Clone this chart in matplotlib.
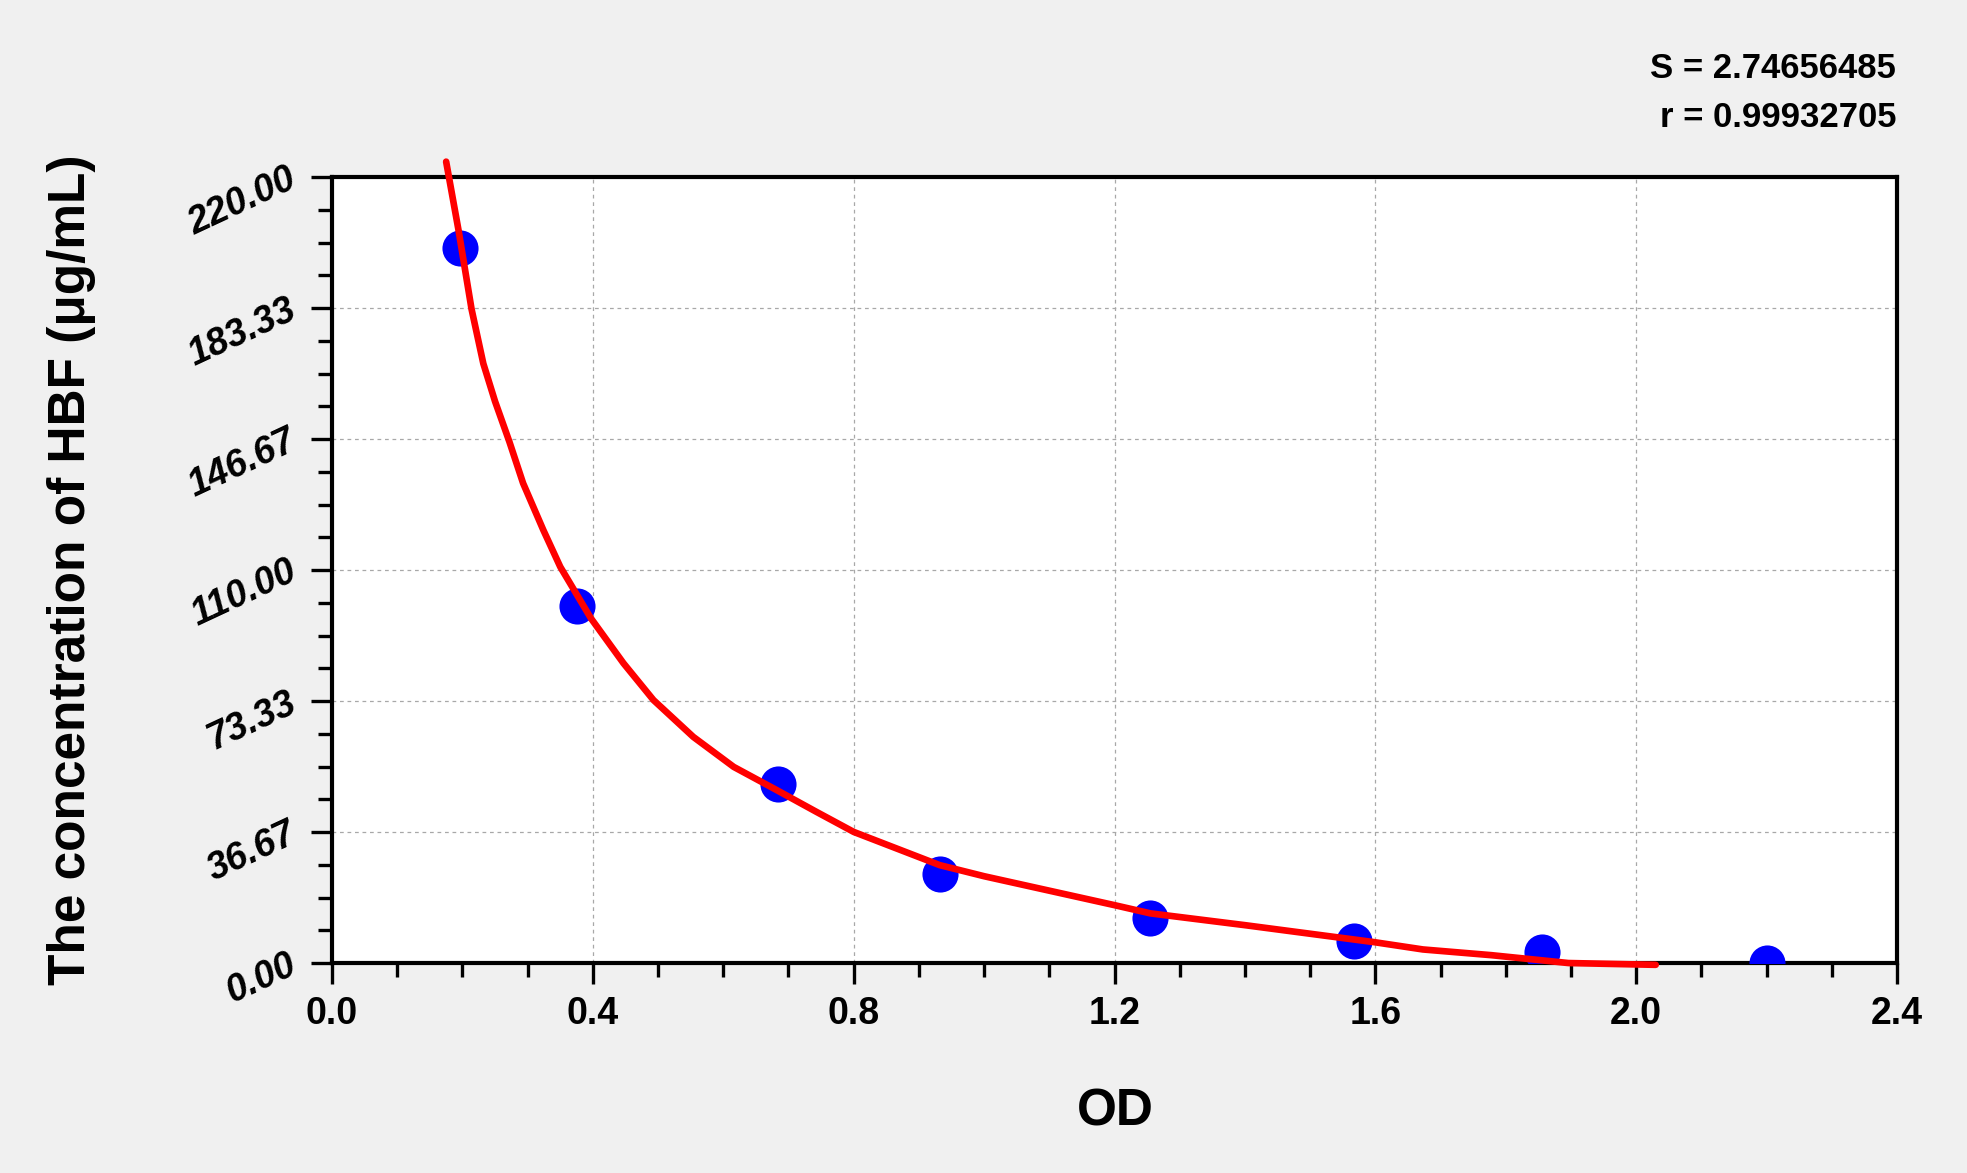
import numpy as np
import matplotlib
matplotlib.use("Agg")
import matplotlib.pyplot as plt
from matplotlib.ticker import AutoMinorLocator, FixedLocator

plt.rcParams['font.family'] = ['Liberation Sans', 'DejaVu Sans']
plt.rcParams['font.weight'] = 'bold'

# standards (OD vs concentration)
od = [0.196, 0.376, 0.684, 0.932, 1.255, 1.568, 1.855, 2.200]
conc = [200, 100, 50, 25, 12.5, 6.25, 3.125, 0]

# fitted curve
curve_od = [0.175, 0.194, 0.214, 0.232, 0.250, 0.272, 0.293, 0.324, 0.350,
            0.397, 0.447, 0.493, 0.554, 0.616, 0.682, 0.743, 0.800, 0.932,
            1.000, 1.200, 1.255, 1.400, 1.600, 1.673, 1.778, 1.896, 2.030]
curve_conc = [224.3, 205.1, 183.0, 167.8, 157.2, 145.9, 134.3, 121.2, 110.9,
              96.5, 83.9, 73.6, 63.3, 54.9, 48.4, 42.3, 36.7, 27.4,
              24.3, 16.2, 13.9, 10.6, 5.8, 3.8, 2.2, 0.0, -0.5]

xticks = [0.0, 0.4, 0.8, 1.2, 1.6, 2.0, 2.4]
ytick_labels = ['0.00', '36.67', '73.33', '110.00', '146.67', '183.33', '220.00']

fig = plt.figure(figsize=(19.67, 11.73), dpi=100)
fig.patch.set_facecolor('#f0f0f0')
ax = fig.add_axes([0.1688, 0.179, 0.7956, 0.6701])
ax.set_facecolor('white')

ax.plot(od, conc, 'o', color='#0000ff', ms=26, mec='none', zorder=3)
ax.plot(curve_od, curve_conc, '-', color='#ff0000', lw=4.8, zorder=4,
        clip_on=False, solid_capstyle='round', solid_joinstyle='round')

ax.set_xlim(0, 2.4)
ax.set_ylim(0, 220)
ax.xaxis.set_major_locator(FixedLocator(xticks))
ax.set_xticklabels(['%.1f' % v for v in xticks], fontsize=27, fontweight='bold')
ax.yaxis.set_major_locator(FixedLocator(np.linspace(0, 220, 7)))
ax.set_yticklabels(ytick_labels, fontsize=27, fontweight='bold', style='italic',
                   rotation=25, rotation_mode='anchor', ha='right', va='center')
ax.xaxis.set_minor_locator(AutoMinorLocator(4))
ax.yaxis.set_minor_locator(AutoMinorLocator(4))

ax.tick_params(which='major', direction='out', length=15, width=2.4, pad=9)
ax.tick_params(axis='y', which='major', pad=12)
ax.tick_params(which='minor', direction='out', length=10, width=2.4)
for s in ax.spines.values():
    s.set_linewidth(3)

ax.grid(True, which='major', color='#a8a8a8', lw=0.9, ls=(0, (3, 3)))
ax.set_axisbelow(True)

fig.text(0.5668, 1 - 1112 / 1173, 'OD', fontsize=37, fontweight='bold',
         ha='center', va='center')
fig.text(72 / 1967, 1 - 570 / 1173, 'The concentration of HBF (μg/mL)',
         fontsize=37, fontweight='bold', rotation=90, ha='center', va='center')

fig.text(1896 / 1967, 1 - 78 / 1173, 'S = 2.74656485', fontsize=25,
         fontweight='bold', ha='right', va='baseline')
fig.text(1896 / 1967, 1 - 127 / 1173, 'r = 0.99932705', fontsize=25,
         fontweight='bold', ha='right', va='baseline')

fig.savefig('out.png', dpi=100, facecolor=fig.get_facecolor())
